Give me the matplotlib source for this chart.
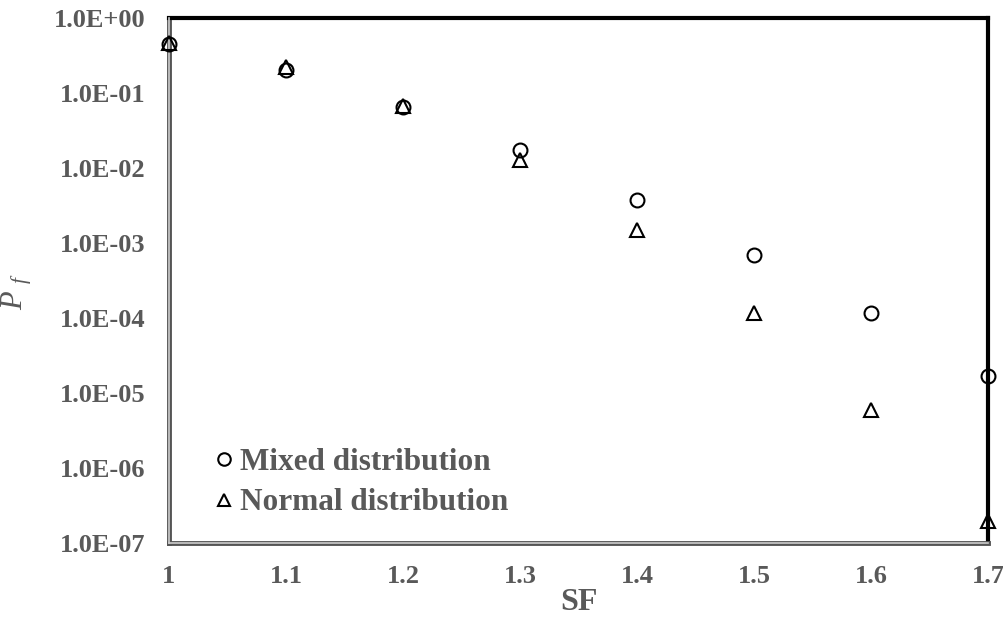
import numpy as np
import matplotlib
matplotlib.use("Agg")
from matplotlib import pyplot as plt
from matplotlib.lines import Line2D

# safety factor values and failure probabilities
sf = [1.0, 1.1, 1.2, 1.3, 1.4, 1.5, 1.6, 1.7]
pf_mixed = [0.45, 0.20, 0.065, 0.0174, 0.0037, 6.9e-4, 1.17e-4, 1.7e-5]
pf_normal = [0.46, 0.22, 0.067, 0.0128, 1.5e-3, 1.17e-4, 5.9e-6, 1.96e-7]

xticks = [1, 1.1, 1.2, 1.3, 1.4, 1.5, 1.6, 1.7]
xticklabels = ["1", "1.1", "1.2", "1.3", "1.4", "1.5", "1.6", "1.7"]
yticks = [1e0, 1e-1, 1e-2, 1e-3, 1e-4, 1e-5, 1e-6, 1e-7]
yticklabels = ["1.0E+00", "1.0E-01", "1.0E-02", "1.0E-03",
               "1.0E-04", "1.0E-05", "1.0E-06", "1.0E-07"]

txt = "#595959"
plt.rcParams["font.family"] = ["Liberation Serif", "DejaVu Serif"]
plt.rcParams["mathtext.fontset"] = "custom"
plt.rcParams["mathtext.rm"] = "Liberation Serif"
plt.rcParams["mathtext.it"] = "Liberation Serif:italic"

fig = plt.figure(figsize=(10.04, 6.18), dpi=100)
ax = fig.add_axes([0.1683, 0.1214, 0.8157, 0.8495])

ax.plot(sf, pf_mixed, linestyle="none", marker="o", markersize=10,
        markerfacecolor="none", markeredgecolor="black", markeredgewidth=1.5,
        clip_on=False, zorder=5)
ax.plot(sf, pf_normal, linestyle="none", marker="^", markersize=10,
        markerfacecolor="none", markeredgecolor="black", markeredgewidth=1.5,
        clip_on=False, zorder=5)

ax.set_yscale("log")
ax.set_xlim(1, 1.7)
ax.set_ylim(1e-7, 1e0)
ax.set_xticks(xticks)
ax.set_xticklabels(xticklabels)
ax.set_yticks(yticks)
ax.set_yticklabels(yticklabels)
ax.yaxis.set_minor_locator(matplotlib.ticker.NullLocator())
ax.tick_params(length=0, labelsize=19, colors=txt)
ax.tick_params(axis="y", pad=17)
ax.tick_params(axis="x", pad=16)
for lb in ax.get_xticklabels() + ax.get_yticklabels():
    lb.set_fontweight("bold")

# frame: thick black top/right, gray double line left/bottom
ax.spines["top"].set_linewidth(3)
ax.spines["right"].set_linewidth(3)
ax.spines["top"].set_color("black")
ax.spines["right"].set_color("black")
for s in ["left", "bottom"]:
    ax.spines[s].set_linewidth(3.5)
    ax.spines[s].set_color("#555555")
ax.plot([1, 1], [1e-7, 1e0], color="#cccccc", lw=1.2, clip_on=False, zorder=4)
ax.plot([1, 1.7], [1e-7, 1e-7], color="#cccccc", lw=1.2, clip_on=False, zorder=4)

ax.set_xlabel("SF", fontsize=23, fontweight="bold", color=txt, labelpad=0)
ax.set_ylabel("$P$ $_f$", fontsize=22, color=txt)
ax.yaxis.set_label_coords(-0.165, 0.48)

handles = [
    Line2D([], [], linestyle="none", marker="o", markersize=9, markerfacecolor="none",
           markeredgecolor="black", markeredgewidth=1.5),
    Line2D([], [], linestyle="none", marker="^", markersize=9, markerfacecolor="none",
           markeredgecolor="black", markeredgewidth=1.5),
]
leg = ax.legend(handles, ["Mixed distribution", "Normal distribution"],
                loc="lower left", bbox_to_anchor=(0.022, -0.005), frameon=False,
                prop={"size": 22.5, "weight": "bold"}, handlelength=0.6,
                handletextpad=0.2, labelspacing=0.38)
for t in leg.get_texts():
    t.set_color(txt)

fig.savefig("out.png", dpi=100)
